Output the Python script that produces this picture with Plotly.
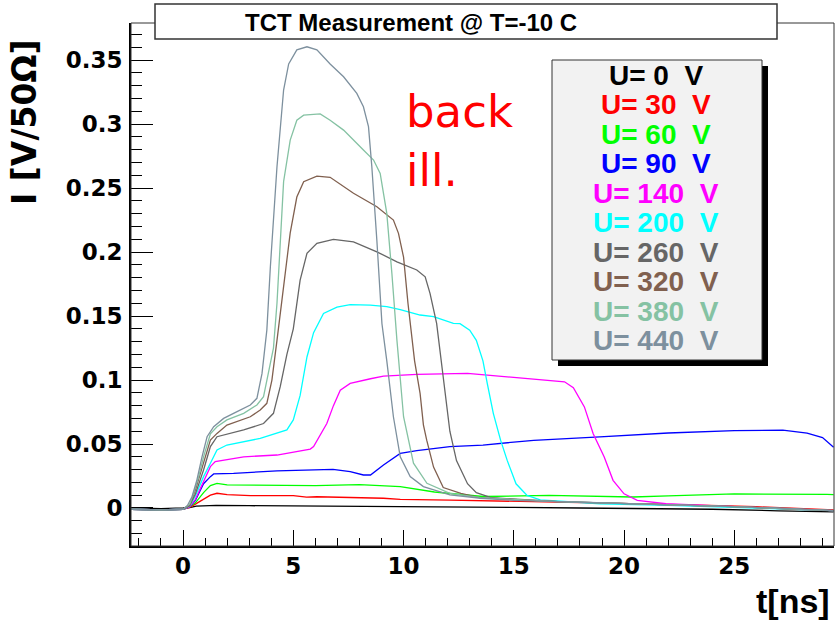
import plotly.graph_objects as go

# ---------------------------------------------------------------------------
# TCT current pulses, back illumination, T = -10 C
# ---------------------------------------------------------------------------
FIG_W, FIG_H = 837, 629
FRAME_L, FRAME_R, FRAME_T, FRAME_B = 131, 834, 23, 546

X_RANGE = [-2.36, 29.52]
Y_RANGE = [-0.0297, 0.379]

x_tick_vals = [0, 5, 10, 15, 20, 25]
x_tick_text = ["0", "5", "10", "15", "20", "25"]
y_tick_vals = [0, 0.05, 0.1, 0.15, 0.2, 0.25, 0.3, 0.35]
y_tick_text = ["0", "0.05", "0.1", "0.15", "0.2", "0.25", "0.3", "0.35"]

voltages = [0, 30, 60, 90, 140, 200, 260, 320, 380, 440]
colors = ["#000000", "#ff0000", "#00ff00", "#0000ff", "#ff00ff",
          "#00ffff", "#666666", "#80604f", "#85c2a3", "#7d909e"]

# time [ns] / current [V/50 Ohm] per bias voltage
t_0V = [-2.35, -1.0, 0.0, 0.3, 0.6, 1.5, 3.0, 5.0, 8.0, 10.0, 12.7, 15.0, 18.0, 21.0, 24.0, 27.0, 29.5]
i_0V = [0.0, -0.0005, 0.0, 0.0003, 0.0015, 0.002, 0.0018, 0.0016, 0.0015, 0.0015, 0.0012, 0.0005, 0.0,
        -0.0005, -0.001, -0.0022, -0.003]

t_30V = [-2.35, -1.0, 0.0, 0.3, 0.56, 0.93, 1.24, 1.54, 2.0, 3.05, 5.0, 5.6, 6.07, 9.09, 9.85, 12.1, 14.4,
         17.0, 20.0, 23.0, 26.0, 29.5]
i_30V = [-0.001, -0.0015, -0.001, 0.0005, 0.003, 0.007, 0.010, 0.0115, 0.0105, 0.0096, 0.0096, 0.0085, 0.0088,
         0.0076, 0.0068, 0.0062, 0.0055, 0.0045, 0.0035, 0.0025, 0.001, -0.0015]

t_60V = [-2.35, -1.0, 0.0, 0.3, 0.56, 0.93, 1.24, 1.54, 2.0, 4.0, 6.0, 8.0, 9.85, 11.4, 12.9, 13.6, 16.6,
         20.4, 22.0, 25.0, 29.2, 29.5]
i_60V = [-0.001, -0.0015, -0.001, 0.001, 0.004, 0.012, 0.0175, 0.0193, 0.018, 0.0178, 0.0175, 0.0183, 0.0167,
         0.0125, 0.0102, 0.009, 0.0098, 0.0086, 0.0095, 0.011, 0.0106, 0.0105]

t_90V = [-2.35, -1.0, 0.0, 0.3, 0.56, 0.93, 1.24, 1.39, 2.29, 4.26, 6.8, 7.58, 8.18, 8.5, 9.09, 9.85, 10.6,
         12.1, 13.6, 15.9, 18.9, 22.0, 25.0, 27.2, 28.3, 29.0, 29.5]
i_90V = [-0.001, -0.0015, -0.001, 0.001, 0.006, 0.019, 0.0245, 0.0266, 0.0271, 0.029, 0.0302, 0.0284, 0.0258,
         0.0258, 0.0336, 0.0427, 0.0448, 0.0479, 0.0492, 0.0529, 0.0555, 0.0586, 0.0605, 0.0608, 0.0585,
         0.055, 0.0475]

t_140V = [-2.35, -1.0, 0.0, 0.3, 0.56, 0.93, 1.24, 1.46, 2.75, 4.26, 5.77, 5.92, 6.2, 6.52, 6.82, 7.13, 7.58,
          7.88, 8.5, 9.09, 10.6, 12.9, 15.1, 16.6, 17.3, 17.7, 18.2, 18.6, 19.1, 19.5, 20.0, 20.6, 21.9,
          25.0, 29.5]
i_140V = [-0.001, -0.0015, -0.001, 0.001, 0.0068, 0.021, 0.0323, 0.0362, 0.040, 0.0414, 0.046, 0.048, 0.056,
          0.066, 0.08, 0.092, 0.0974, 0.0987, 0.101, 0.103, 0.1044, 0.1052, 0.1021, 0.0995, 0.0986, 0.094,
          0.079, 0.058, 0.0398, 0.0216, 0.0111, 0.0059, 0.0033, 0.001, -0.002]

t_200V = [-2.35, -1.0, 0.0, 0.3, 0.56, 0.93, 1.24, 1.54, 1.99, 3.5, 4.71, 5.0, 5.31, 5.62, 5.92, 6.37, 6.98,
          7.58, 8.49, 9.24, 9.85, 10.75, 11.36, 12.26, 12.56, 13.0, 13.3, 13.6, 13.8, 14.07, 14.4, 14.7,
          15.1, 15.6, 16.2, 18.9, 22.0, 25.0, 29.5]
i_200V = [-0.001, -0.0015, -0.001, 0.0015, 0.0094, 0.0245, 0.035, 0.0453, 0.0492, 0.0544, 0.061, 0.0688,
          0.088, 0.118, 0.137, 0.152, 0.157, 0.159, 0.1586, 0.1573, 0.155, 0.1508, 0.1495, 0.1443, 0.144,
          0.139, 0.131, 0.115, 0.097, 0.074, 0.053, 0.0372, 0.0189, 0.0098, 0.0064, 0.0033, 0.002, 0.0005,
          -0.002]

t_260V = [-2.35, -1.0, 0.0, 0.3, 0.56, 0.93, 1.24, 1.54, 2.75, 3.65, 4.1, 4.41, 4.71, 5.0, 5.31, 5.62, 6.07,
          6.82, 7.73, 8.79, 9.7, 10.6, 10.98, 11.2, 11.5, 11.66, 11.8, 12.1, 12.4, 12.9, 13.3, 14.0, 17.0,
          21.0, 25.0, 29.5]
i_260V = [-0.001, -0.0015, -0.001, 0.002, 0.011, 0.0297, 0.048, 0.0557, 0.061, 0.066, 0.074, 0.095, 0.12,
          0.14, 0.178, 0.199, 0.2068, 0.2099, 0.208, 0.2002, 0.1924, 0.186, 0.1807, 0.1677, 0.1443, 0.123,
          0.10, 0.06, 0.037, 0.019, 0.012, 0.008, 0.005, 0.003, 0.001, -0.002]

t_320V = [-2.35, -1.0, 0.0, 0.3, 0.56, 0.93, 1.24, 1.54, 1.99, 3.05, 3.5, 3.8, 4.03, 4.26, 4.56, 4.86, 5.16,
          5.47, 6.07, 6.67, 7.73, 8.79, 9.54, 9.77, 10.0, 10.2, 10.5, 10.75, 10.9, 11.05, 11.36, 11.8, 12.6,
          13.5, 17.0, 21.0, 25.0, 29.5]
i_320V = [-0.001, -0.0015, -0.001, 0.002, 0.014, 0.035, 0.053, 0.0583, 0.0648, 0.0713, 0.0766, 0.0818, 0.10,
          0.131, 0.175, 0.215, 0.243, 0.255, 0.2594, 0.2584, 0.2459, 0.2354, 0.225, 0.2146, 0.196, 0.16,
          0.115, 0.0896, 0.065, 0.053, 0.032, 0.016, 0.0115, 0.008, 0.005, 0.003, 0.001, -0.002]

t_380V = [-2.35, -1.0, 0.0, 0.3, 0.48, 0.71, 0.93, 1.24, 1.54, 1.99, 2.75, 3.35, 3.65, 3.88, 4.1, 4.26, 4.4,
          4.56, 4.86, 5.16, 5.47, 6.22, 6.67, 7.28, 8.18, 8.64, 8.94, 9.24, 9.47, 9.7, 10.0, 10.45, 11.06,
          12.1, 13.5, 17.0, 21.0, 25.0, 29.5]
i_380V = [-0.001, -0.0015, -0.001, 0.003, 0.0115, 0.0245, 0.040, 0.058, 0.0635, 0.0688, 0.074, 0.0805,
          0.087, 0.108, 0.125, 0.16, 0.21, 0.255, 0.2875, 0.303, 0.307, 0.308, 0.303, 0.2953, 0.2797,
          0.2719, 0.2615, 0.2302, 0.1834, 0.131, 0.0713, 0.035, 0.0193, 0.0115, 0.008, 0.005, 0.003, 0.001,
          -0.002]

t_440V = [-2.35, -1.0, 0.0, 0.2, 0.41, 0.63, 0.86, 1.09, 1.39, 1.84, 2.45, 3.05, 3.35, 3.58, 3.8, 3.96, 4.26,
          4.56, 4.79, 5.16, 5.62, 6.07, 6.67, 7.28, 7.88, 8.18, 8.41, 8.56, 8.79, 9.02, 9.24, 9.54, 9.85,
          10.3, 10.9, 12.1, 13.5, 15.0, 18.0, 21.0, 24.0, 27.0, 29.5]
i_440V = [-0.001, -0.0015, -0.001, 0.002, 0.009, 0.022, 0.040, 0.0557, 0.0635, 0.070, 0.0753, 0.0805,
          0.0857, 0.105, 0.139, 0.1885, 0.2667, 0.3266, 0.347, 0.358, 0.3604, 0.358, 0.347, 0.337, 0.324,
          0.3135, 0.298, 0.267, 0.209, 0.144, 0.115, 0.0713, 0.040, 0.0245, 0.0167, 0.0102, 0.0076, 0.006,
          0.0045, 0.003, 0.001, 0.0, -0.002]

times = [t_0V, t_30V, t_60V, t_90V, t_140V, t_200V, t_260V, t_320V, t_380V, t_440V]
currents = [i_0V, i_30V, i_60V, i_90V, i_140V, i_200V, i_260V, i_320V, i_380V, i_440V]

PLOT_W = FRAME_R - FRAME_L
PLOT_H = FRAME_B - FRAME_T


def px(x):
    """pixel column -> paper x"""
    return (x - FRAME_L) / PLOT_W


def py(y):
    """pixel row -> paper y"""
    return (FRAME_B - y) / PLOT_H


HELV = "Liberation Sans, Arial, Helvetica, sans-serif"
WIDE_BOLD = "DejaVu Sans, sans-serif"
TICK_FONT = dict(family=WIDE_BOLD, size=23, color="black", weight="bold")

fig = go.Figure()
for v, c, t, cur in zip(voltages, colors, times, currents):
    fig.add_trace(go.Scatter(x=t, y=cur, mode="lines", name=f"U= {v} V",
                             line=dict(color=c, width=1.3), showlegend=False,
                             hoverinfo="skip"))

shapes = [
    # thin frame (top/right edges)
    dict(type="rect", xref="paper", yref="paper", x0=0, x1=1, y0=0, y1=1,
         line=dict(color="#333333", width=1), layer="above"),
    # title box
    dict(type="rect", xref="paper", yref="paper", x0=px(155), x1=px(777), y0=py(39), y1=py(4),
         line=dict(color="#333333", width=1.5), fillcolor="white", layer="above"),
    # legend shadow + box
    dict(type="rect", xref="paper", yref="paper", x0=px(558), x1=px(768), y0=py(366), y1=py(66),
         line=dict(width=0), fillcolor="black", layer="above"),
    dict(type="rect", xref="paper", yref="paper", x0=px(552), x1=px(762), y0=py(360), y1=py(60),
         line=dict(color="#333333", width=1), fillcolor="#f2f2f2", layer="above"),
]

annotations = [
    dict(text="TCT Measurement @ T=-10 C", xref="paper", yref="paper", x=px(411), y=py(22),
         xanchor="center", yanchor="middle", showarrow=False,
         font=dict(family=HELV, size=24, color="black", weight="bold")),
    dict(text="I [V/50\u03a9]", xref="paper", yref="paper", x=px(25), y=py(122), textangle=-90,
         xanchor="center", yanchor="middle", showarrow=False,
         font=dict(family=WIDE_BOLD, size=33, color="black", weight="bold")),
    dict(text="t[ns]", xref="paper", yref="paper", x=px(832), y=py(601),
         xanchor="right", yanchor="middle", showarrow=False,
         font=dict(family=HELV, size=34, color="black", weight="bold")),
    dict(text="back<br>ill.", xref="paper", yref="paper", x=px(404), y=py(141),
         xanchor="left", yanchor="middle", align="left", showarrow=False,
         font=dict(family=WIDE_BOLD, size=45, color="#ff0000")),
]

for k, (v, c) in enumerate(zip(voltages, colors)):
    annotations.append(dict(
        text=f"U= {v}\u00a0\u00a0V", xref="paper", yref="paper", x=px(656), y=py(75 + 29.5 * k),
        xanchor="center", yanchor="middle", showarrow=False,
        font=dict(family=HELV, size=28, color=c, weight="bold")))

fig.update_layout(
    width=FIG_W, height=FIG_H, autosize=False,
    margin=dict(l=FRAME_L, r=FIG_W - FRAME_R, t=FRAME_T, b=FIG_H - FRAME_B, pad=0),
    paper_bgcolor="white", plot_bgcolor="white",
    shapes=shapes, annotations=annotations,
    xaxis=dict(range=X_RANGE, showgrid=False, zeroline=False, showline=True,
               linecolor="black", linewidth=2, ticks="inside", ticklen=16, tickwidth=1,
               tickcolor="black", tickvals=x_tick_vals, ticktext=x_tick_text,
               tickfont=TICK_FONT, ticklabelstandoff=-2,
               minor=dict(dtick=1, ticks="inside", ticklen=8, tickwidth=1, tickcolor="black",
                          showgrid=False)),
    yaxis=dict(range=Y_RANGE, showgrid=False, zeroline=False, showline=True,
               linecolor="black", linewidth=2, ticks="inside", ticklen=22, tickwidth=1,
               tickcolor="black", tickvals=y_tick_vals, ticktext=y_tick_text,
               tickfont=TICK_FONT, ticklabelstandoff=2,
               minor=dict(dtick=0.01, ticks="inside", ticklen=11, tickwidth=1, tickcolor="black",
                          showgrid=False)),
)

fig.write_html("out.html")
